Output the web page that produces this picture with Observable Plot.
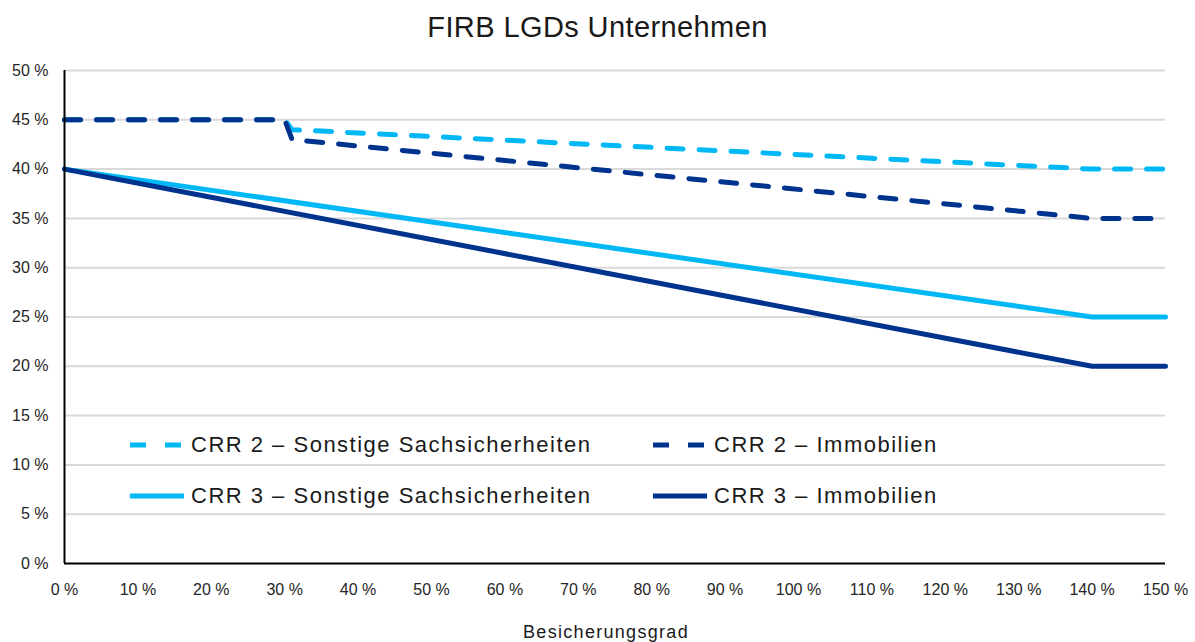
<!DOCTYPE html>
<html>
<head>
<meta charset="utf-8">
<script src="https://cdn.jsdelivr.net/npm/d3@7"></script>
<script src="https://cdn.jsdelivr.net/npm/@observablehq/plot@0.6"></script>
<style>
  body { margin: 0; background: #fff; font-family: "Liberation Sans", Arial, sans-serif; }
  #wrap { position: relative; width: 1195px; height: 642px; overflow: hidden; }
  #title { position: absolute; left: 0; top: 11px; width: 1195px; text-align: center; font-size: 29px; letter-spacing: 0.4px; color: #1a1a1a; }
  #chart { position: absolute; left: 0; top: 55px; }
  .leg { position: absolute; display: flex; align-items: center; font-size: 22px; letter-spacing: 1.5px; color: #1a1a1a; white-space: nowrap; }
  .leg svg { margin-right: 7px; }
</style>
</head>
<body>
<div id="wrap">
  <div id="title">FIRB LGDs Unternehmen</div>
  <div id="chart"></div>
  <div id="legend"></div>
</div>
<script>
// Series data (Besicherungsgrad in %, LGD in %)
const xCRR2Sonstige = [0, 30, 31, 140, 150];
const yCRR2Sonstige = [45, 45, 44, 40, 40];
const xCRR2Immo = [0, 30, 31, 140, 150];
const yCRR2Immo = [45, 45, 43, 35, 35];
const xCRR3Sonstige = [0, 140, 150];
const yCRR3Sonstige = [40, 25, 25];
const xCRR3Immo = [0, 140, 150];
const yCRR3Immo = [40, 20, 20];

const seriesNames = [
  "CRR 2 – Sonstige Sachsicherheiten",
  "CRR 2 – Immobilien",
  "CRR 3 – Sonstige Sachsicherheiten",
  "CRR 3 – Immobilien"
];
const xTicks = [0, 10, 20, 30, 40, 50, 60, 70, 80, 90, 100, 110, 120, 130, 140, 150];
const yTicks = [0, 5, 10, 15, 20, 25, 30, 35, 40, 45, 50];
const xAxisTitle = "Besicherungsgrad";

const lightBlue = "#00B8F5";
const darkBlue = "#00338D";

const toRows = (xs, ys, name) => xs.map((x, i) => ({x, y: ys[i], name}));
const crr2S = toRows(xCRR2Sonstige, yCRR2Sonstige, seriesNames[0]);
const crr2I = toRows(xCRR2Immo, yCRR2Immo, seriesNames[1]);
const crr3S = toRows(xCRR3Sonstige, yCRR3Sonstige, seriesNames[2]);
const crr3I = toRows(xCRR3Immo, yCRR3Immo, seriesNames[3]);

const fmt = d => d + " %";

const plot = Plot.plot({
  width: 1195,
  height: 587,
  marginTop: 15,
  marginLeft: 64,
  marginRight: 30,
  marginBottom: 79,
  style: { fontFamily: "Liberation Sans, Arial, sans-serif", fontSize: "16px", color: "#262626", background: "transparent", overflow: "visible" },
  x: { domain: [0, 150] },
  y: { domain: [0, 50] },
  marks: [
    Plot.gridY(yTicks.filter(d => d > 0), { stroke: "#d9d9d9", strokeOpacity: 1, strokeWidth: 2 }),
    Plot.axisY(yTicks, { tickSize: 0, tickPadding: 16, tickFormat: fmt, label: null, fontSize: 16 }),
    Plot.axisX(xTicks, { tickSize: 0, tickPadding: 20, tickFormat: fmt, label: null, fontSize: 16 }),
    Plot.text([xAxisTitle], { frameAnchor: "bottom", dy: 74, dx: -9, lineAnchor: "bottom", fontSize: 18, fill: "#1a1a1a" }),
    Plot.line(crr3S, { x: "x", y: "y", stroke: lightBlue, strokeWidth: 5, strokeLinejoin: "miter" }),
    Plot.line(crr3I, { x: "x", y: "y", stroke: darkBlue, strokeWidth: 5, strokeLinejoin: "miter" }),
    Plot.line(crr2S, { x: "x", y: "y", stroke: lightBlue, strokeWidth: 5, strokeDasharray: "16,16", strokeLinejoin: "miter" }),
    Plot.line(crr2I, { x: "x", y: "y", stroke: darkBlue, strokeWidth: 5, strokeDasharray: "16,16", strokeLinejoin: "miter" }),
    Plot.ruleX([0], { stroke: "#000", strokeWidth: 2 }),
    Plot.ruleY([0], { stroke: "#000", strokeWidth: 2 })
  ]
});
document.getElementById("chart").appendChild(plot);
plot.querySelectorAll("text").forEach(t => {
  if (t.textContent === xAxisTitle) t.style.letterSpacing = "1.3px";
});

// Legend
const legendItems = [
  { name: seriesNames[0], color: lightBlue, dash: true, left: 130, top: 445 },
  { name: seriesNames[1], color: darkBlue, dash: true, left: 653, top: 445 },
  { name: seriesNames[2], color: lightBlue, dash: false, left: 130, top: 496 },
  { name: seriesNames[3], color: darkBlue, dash: false, left: 653, top: 496 }
];
const legend = document.getElementById("legend");
legendItems.forEach(it => {
  const div = document.createElement("div");
  div.className = "leg";
  div.style.left = it.left + "px";
  div.style.top = (it.top - 15) + "px";
  div.style.height = "30px";
  div.innerHTML = `<svg width="54" height="10"><line x1="0" y1="5" x2="54" y2="5" stroke="${it.color}" stroke-width="5" ${it.dash ? 'stroke-dasharray="16,19"' : ''}/></svg><span>${it.name}</span>`;
  legend.appendChild(div);
});
</script>
</body>
</html>
